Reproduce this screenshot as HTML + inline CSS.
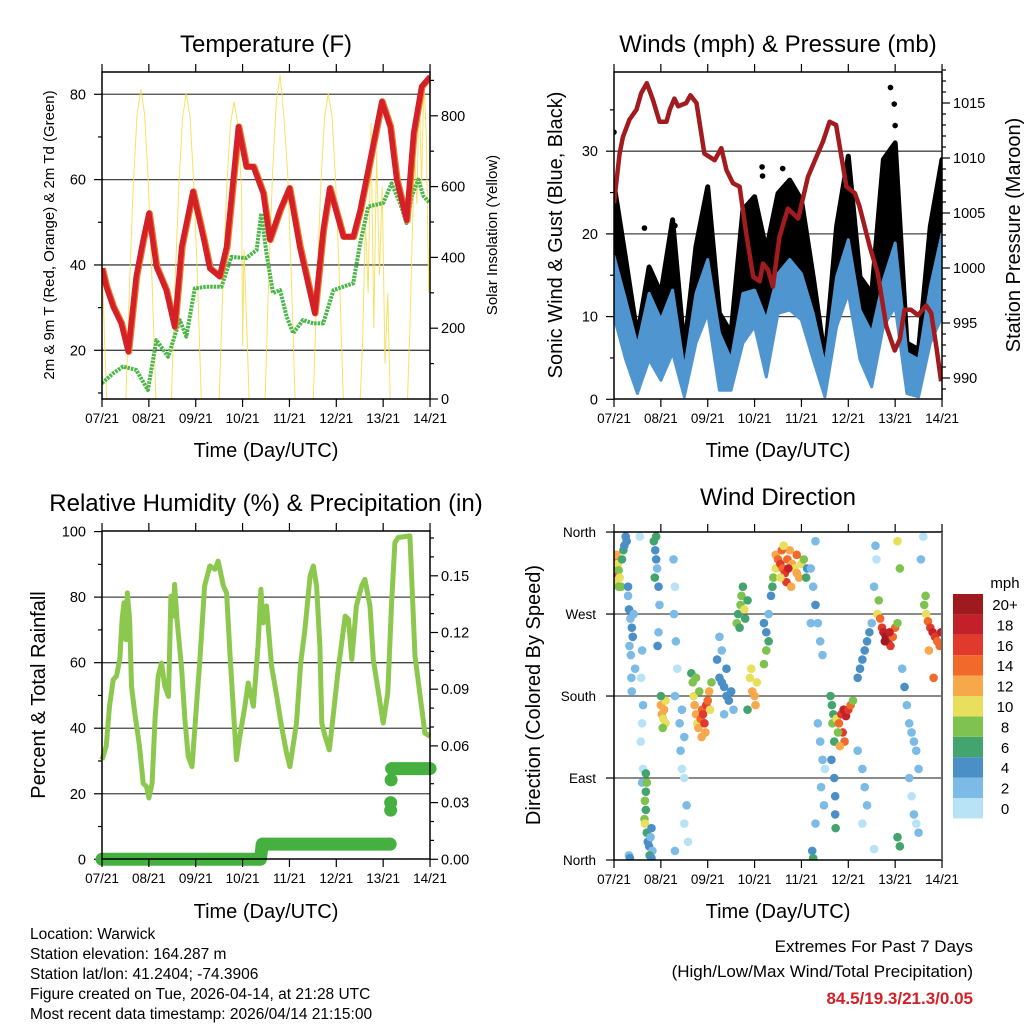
<!DOCTYPE html>
<html><head><meta charset="utf-8"><style>
html,body{margin:0;padding:0;background:#fff;}
svg{display:block;font-family:"Liberation Sans",sans-serif;}
</style></head><body>
<svg id="fig" width="1024" height="1024" viewBox="0 0 1024 1024" xmlns="http://www.w3.org/2000/svg"></svg>
<script>
// ---------- DATA ----------
const dayLabels = ["07/21","08/21","09/21","10/21","11/21","12/21","13/21","14/21"];
const tempData = [[0,39.2],[0.09,35],[0.24,30.2],[0.41,26.3],[0.56,19.7],[0.73,37.3],[0.88,45.9],[1.0,52.1],[1.16,39.6],[1.37,34.1],[1.55,25.5],[1.7,44.3],[1.94,57.2],[2.16,46.6],[2.3,39.2],[2.51,37.3],[2.66,44.3],[2.91,72.4],[3.08,63],[3.23,63],[3.44,56.8],[3.58,45.9],[3.8,52.9],[4.0,58],[4.22,44.3],[4.54,28.7],[4.72,48.2],[4.86,58],[5.15,46.6],[5.36,46.6],[5.51,52.9],[5.68,62.3],[5.97,78.3],[6.15,72.4],[6.29,59.9],[6.5,50.5],[6.65,70.9],[6.82,81.8],[7.0,84.1]];
const dewData = [[0,12.3],[0.24,14.6],[0.45,16.2],[0.73,15.4],[0.98,10.7],[1.16,22.4],[1.41,18.5],[1.66,27.1],[1.8,23.2],[1.98,34.5],[2.23,34.9],[2.55,34.9],[2.76,41.9],[3.08,41.6],[3.3,43.5],[3.4,52.1],[3.51,42.7],[3.65,33.4],[3.8,34.1],[3.94,27.9],[4.08,24],[4.29,27.1],[4.51,26.3],[4.72,26.3],[4.94,34.1],[5.15,34.9],[5.36,35.7],[5.51,45.1],[5.68,53.7],[6.0,54.5],[6.18,59.1],[6.36,54.5],[6.5,49.8],[6.61,56.1],[6.75,60],[6.86,56.1],[7.0,54.5]];
const solarData = [[0,400],[0.06,150],[0.1,0],
 [0.51,0],[0.59,330],[0.67,610],[0.75,805],[0.83,875],[0.91,805],[0.99,610],[1.07,330],[1.15,0],
 [1.48,0],[1.56,330],[1.64,605],[1.72,795],[1.80,864],[1.88,795],[1.96,605],[2.04,330],[2.12,0],
 [2.5,0],[2.58,320],[2.66,590],[2.74,775],[2.82,840],[2.9,775],[2.98,590],[3.0,150],[3.03,420],[3.06,320],[3.14,0],
 [3.48,0],[3.56,350],[3.64,640],[3.72,840],[3.80,915],[3.88,800],[3.96,640],[4.04,350],[4.12,0],
 [4.51,0],[4.59,330],[4.67,605],[4.75,795],[4.83,864],[4.91,795],[4.99,605],[5.07,330],[5.15,0],
 [5.51,0],[5.56,150],[5.62,500],[5.68,300],[5.74,780],[5.8,200],[5.86,700],[5.92,350],[5.98,600],[6.04,100],[6.1,300],[6.15,0],
 [6.52,0],[6.57,200],[6.62,450],[6.67,700],[6.72,550],[6.77,880],[6.82,600],[6.87,900],[6.92,750],[6.97,300],[7.0,500]];
const windTimes = [0,0.25,0.5,0.75,1,1.25,1.5,1.75,2,2.25,2.5,2.75,3,3.25,3.5,3.75,4,4.25,4.5,4.75,5,5.25,5.5,5.75,6,6.25,6.5,6.75,7];
const windHi = [17.3,12,6.4,12.8,9.6,13.2,3.5,12.8,16.9,8,4.8,12.8,13.2,9.6,15.2,16.9,15.2,10.4,4,14.8,19.3,10.8,8,14.4,18.9,5.6,4.8,13.6,20];
const windLo = [10,4.8,0.7,4.8,2.3,5.6,0.3,6.8,10.4,1.1,1.1,6.8,8.8,2.7,10.4,10.8,9.6,4.8,0.3,8.8,12.8,4.8,1.5,8.8,11.2,0.7,0.3,6.8,10];
const gustHi = [26,16.9,7.6,16,12.8,21.7,6,18.5,25.7,10.4,8,22.9,24.5,18,24.9,26.5,24.1,14.8,4.8,20.9,29.4,14.8,12.8,29,31,6.8,6,20.9,29];
const gustOutliers = [[5.9,37.7],[5.98,35.7],[6.0,33.1],[0,32.3],[3.16,28.1],[3.17,27],[3.6,27.9],[1.3,21],[0.65,20.7]];
const pressData = [[0,1005.9],[0.12,1010.4],[0.19,1011.9],[0.33,1013.5],[0.48,1014.4],[0.58,1015.9],[0.7,1016.8],[0.83,1015.3],[0.97,1013.3],[1.12,1013.3],[1.19,1014.4],[1.29,1015.4],[1.37,1014.7],[1.54,1015],[1.63,1015.7],[1.76,1015],[1.93,1010.4],[2.15,1009.8],[2.29,1010.9],[2.4,1008.9],[2.54,1007.7],[2.68,1007.4],[2.82,1003.2],[2.97,999.2],[3.11,998.8],[3.18,1000.4],[3.29,999.8],[3.39,998.3],[3.53,1002.8],[3.71,1005.4],[3.93,1004.5],[4.14,1008.3],[4.32,1010.1],[4.46,1011.5],[4.6,1013.3],[4.74,1013],[4.96,1007.4],[5.14,1006.8],[5.24,1005.6],[5.46,1001.9],[5.63,999.5],[5.81,994.7],[5.99,992.5],[6.1,993.5],[6.2,996.2],[6.34,996.2],[6.49,995.7],[6.66,996.6],[6.77,995.9],[6.88,992.8],[6.98,989.7]];
const rhData = [[0,30.4],[0.09,34.5],[0.16,46.7],[0.24,54.8],[0.31,55.9],[0.38,61],[0.43,73.2],[0.47,78.3],[0.51,67],[0.54,81.3],[0.59,73.2],[0.63,52.8],[0.7,44.6],[0.8,34.5],[0.88,23.2],[0.95,22.2],[1.0,18.7],[1.07,23.2],[1.13,42.6],[1.2,55.9],[1.27,59.9],[1.34,52.8],[1.42,49.7],[1.47,80.3],[1.52,74.2],[1.55,83.9],[1.6,73.2],[1.7,57.9],[1.77,42.6],[1.84,31.4],[1.92,28.3],[2.02,47.7],[2.09,61],[2.19,83.4],[2.3,89.5],[2.41,88.5],[2.48,91],[2.59,83.4],[2.66,81.3],[2.73,63],[2.87,30.4],[2.94,37.5],[3.05,46.7],[3.12,53.8],[3.23,46.7],[3.33,65],[3.39,82.4],[3.44,72.2],[3.51,77.3],[3.62,58.9],[3.73,49.7],[3.83,40.6],[3.94,32.4],[4.01,28.3],[4.15,41.6],[4.24,59.9],[4.33,70.1],[4.44,86.4],[4.51,89.5],[4.58,83.4],[4.65,65],[4.69,41.6],[4.76,37.5],[4.85,33.4],[4.94,44.6],[5.04,57.9],[5.19,74.2],[5.26,73.2],[5.33,61],[5.43,77.3],[5.54,83.4],[5.61,85.4],[5.72,77.3],[5.79,61],[5.9,50.8],[6.0,41.6],[6.1,50.8],[6.18,78.3],[6.25,96.6],[6.32,98.2],[6.57,98.7],[6.68,62],[6.79,49.7],[6.89,38.5],[7.0,37.5]];
const precipData = [[0,0],[3.38,0],[3.42,0.008],[6.15,0.008],[6.16,0.026],[6.16,0.030],[6.17,0.042],[6.18,0.048],[7.0,0.048]];
const dirData = [[0.0,330,14],[0.02,322,16],[0.03,315,17],[0.05,335,12],[0.08,325,10],[0.1,318,8],[0.12,310,10],[0.15,300,8],[0.17,330,6],[0.2,340,7],[0.22,345,5],[0.25,355,4],[0.27,350,4],[0.05,305,11],[0.1,300,9],
[0.3,290,3],[0.32,275,4],[0.35,265,3],[0.38,255,4],[0.4,245,5],[0.33,235,3],[0.42,270,2],[0.45,210,2],[0.36,225,3],[0.3,300,4],[0.32,5,3],[0.34,2,4],[0.37,200,3],[0.38,185,2],
[0.55,355,1],[0.6,230,2],[0.58,200,1],[0.62,170,2],[0.6,150,1],[0.57,130,1],[0.62,100,1],[0.6,85,2],
[0.68,95,7],[0.7,85,8],[0.68,75,7],[0.66,65,8],[0.68,55,7],[0.65,45,9],[0.66,40,10],[0.7,30,6],[0.72,20,5],[0.75,15,4],[0.78,25,3],[0.8,35,4],[0.82,10,3],[0.76,5,6],[0.8,2,4],
[0.85,350,6],[0.88,340,4],[0.9,330,5],[0.92,320,3],[0.95,300,4],[0.97,280,3],[0.95,250,2],[0.93,235,4],[0.9,355,7],[0.87,310,6],
[1.0,170,12],[1.02,160,12],[1.05,155,11],[1.07,165,12],[1.1,175,11],[1.1,150,10],[1.04,145,9],[1.0,180,7],
[1.27,330,2],[1.3,300,1],[1.28,270,3],[1.32,240,2],[1.35,210,1],[1.3,180,2],[1.4,150,2],[1.42,120,2],[1.45,100,1],[1.5,90,1],[1.55,60,2],[1.5,40,1],[1.3,10,2],[1.58,20,1],[1.5,135,2],[1.45,165,3],
[1.65,205,7],[1.68,195,9],[1.7,180,10],[1.72,170,12],[1.75,160,12],[1.78,150,11],[1.8,145,12],[1.85,155,14],[1.88,165,15],[1.9,160,16],[1.93,150,17],[1.97,170,16],[2.0,175,14],[2.03,185,13],[2.05,165,10],[1.82,185,9],[1.75,200,8],[1.95,140,13],[1.87,135,12],[2.08,195,9],
[2.2,220,4],[2.25,200,5],[2.3,195,4],[2.35,190,4],[2.4,180,5],[2.45,175,4],[2.5,185,5],[2.3,230,3],[2.25,245,3],[2.4,210,4],[2.55,165,3],[2.35,160,2],
[2.65,270,7],[2.7,280,8],[2.72,290,9],[2.75,300,7],[2.78,275,10],[2.8,265,7],[2.85,285,6],[2.62,260,8],[2.68,255,6],
[2.9,200,11],[2.95,185,12],[3.0,180,13],[3.02,170,12],[2.93,210,10],[3.05,195,11],[2.85,165,7],
[3.2,260,5],[3.25,250,4],[3.3,270,3],[3.35,290,4],[3.38,300,7],[3.4,310,9],[3.25,230,8],[3.2,215,9],[3.45,320,11],[3.3,240,6],
[3.45,335,12],[3.5,330,14],[3.55,325,16],[3.6,320,15],[3.65,315,17],[3.7,330,14],[3.75,340,13],[3.8,325,12],[3.85,320,11],[3.9,315,12],[3.95,310,13],[4.0,325,10],[4.05,330,8],[4.1,310,6],[3.58,340,14],[3.68,305,16],[3.78,300,12],[3.62,345,11],[3.9,335,14],[3.72,320,18],[4.12,320,5],[3.55,310,10],
[4.2,320,3],[4.25,300,2],[4.3,280,4],[4.35,260,3],[4.4,240,2],[4.45,225,2],[4.3,350,2],[4.2,260,2],
[4.23,10,5],[4.25,2,6],[4.3,40,2],[4.35,150,2],[4.4,130,3],[4.45,110,3],[4.42,80,2],[4.5,100,1],[4.48,60,2],
[4.62,180,7],[4.65,170,6],[4.68,160,7],[4.66,150,9],[4.7,90,4],[4.72,70,5],[4.72,50,4],[4.73,35,6],[4.7,130,6],[4.64,110,4],
[4.75,155,10],[4.8,150,14],[4.85,160,16],[4.9,165,18],[4.95,158,19],[5.0,165,17],[5.05,170,15],[4.88,140,16],[4.92,130,15],[4.78,140,9],[5.1,175,8],[4.82,125,12],
[5.2,200,4],[5.25,210,5],[5.3,220,4],[5.35,230,4],[5.4,240,5],[5.45,250,4],[5.5,260,3],[5.55,300,2],[5.6,330,1],[5.2,120,2],[5.3,100,2],[5.35,80,2],[5.4,60,2],[5.3,40,1],[5.58,345,3],[5.55,12,1],
[5.62,270,11],[5.68,265,15],[5.72,255,16],[5.75,250,18],[5.8,245,20],[5.85,240,19],[5.9,235,17],[5.95,245,15],[6.0,255,14],[5.78,240,20],[5.88,250,18],[5.65,285,9],[6.05,260,8],
[6.05,350,10],[6.1,320,9],[6.15,210,3],[6.2,190,4],[6.25,170,3],[6.3,150,2],[6.35,140,3],[6.4,130,2],[6.45,120,3],[6.5,100,2],[6.3,90,2],[6.35,70,1],[6.4,50,2],[6.45,40,1],[6.5,30,2],[6.1,15,6],[6.05,25,7],[6.55,330,2],[6.6,355,1],
[6.62,280,8],[6.66,270,10],[6.7,262,14],[6.75,255,16],[6.8,250,18],[6.85,245,17],[6.9,240,15],[6.95,235,14],[6.98,250,19],[6.72,230,12],[6.65,290,9],[6.82,200,14]];
const speedLabels = ["0","2","4","6","8","10","12","14","16","18","20+"];
const speedColors = ["#b8e3f7","#7cbbe6","#4b8fc7","#43a46e","#7fc24f","#e8e05c","#f7a84a","#f26a2b","#e03a2c","#c3202a","#9e1a1f"];
const tempTicks=[20,40,60,80], solarTicks=[0,200,400,600,800], windTicks=[0,10,20,30], pressTicks=[990,995,1000,1005,1010,1015], rhTicks=[0,20,40,60,80,100], precipTicks=["0.00","0.03","0.06","0.09","0.12","0.15"], dirTicks=["North","East","South","West","North"];

// ---------- HELPERS ----------
const NS="http://www.w3.org/2000/svg", svg=document.getElementById('fig');
function mk(tag,attrs,parent){const e=document.createElementNS(NS,tag);for(const k in attrs)e.setAttribute(k,attrs[k]);(parent||svg).appendChild(e);return e;}
function txt(s,x,y,size,anchor,parent,extra){const t=mk('text',Object.assign({x:x,y:y,'font-size':size,'text-anchor':anchor||'middle',fill:'#000'},extra||{}),parent);t.textContent=s;return t;}
const DAYW=46.86;
const P1={l:102,r:430,t:72,b:399}, P2={l:614,r:942,t:72,b:399}, P3={l:102,r:430,t:531,b:859}, P4={l:614,r:942,t:532,b:860};
const xs=(P,d)=>P.l+d*DAYW;
const yTemp=v=>350.3-(v-20)*4.267, ySolar=v=>399-v*0.354;
const yWind=v=>399.3-v*8.27, yPress=p=>103+(1015-p)*11;
const yRH=v=>859.3-v*3.277, yPrecip=v=>859.3-v*1890;
const yDir=d=>860-d*0.911;
function clip(id,P){const c=mk('clipPath',{id:id});mk('rect',{x:P.l,y:P.t,width:P.r-P.l,height:P.b-P.t},c);}
function frame(P,name,g){
  mk('rect',{x:P.l,y:P.t,width:P.r-P.l,height:P.b-P.t,fill:'none',stroke:'#000','stroke-width':1.5},g);
  for(let i=0;i<dayLabels.length;i++){const x=xs(P,i);
    mk('line',{x1:x,y1:P.b,x2:x,y2:P.b+8,stroke:'#000','stroke-width':1.2},g);
    mk('line',{x1:x,y1:P.t,x2:x,y2:P.t-8,stroke:'#000','stroke-width':1.2},g);
    const t=txt(dayLabels[i],x,P.b+24,13.5,'middle',g);
    
    }
}
function hgrid(y,P,g){mk('line',{x1:P.l,y1:y,x2:P.r,y2:y,stroke:'#444','stroke-width':1.3},g);}
function yt(x,y,len,g){mk('line',{x1:x,y1:y,x2:x+len,y2:y,stroke:'#000','stroke-width':1.2},g);}
function path(data,fx,fy){return data.map((p,i)=>(i?'L':'M')+fx(p[0]).toFixed(1)+','+fy(p[1]).toFixed(1)).join('');}
const defs=mk('defs',{});
clip('c1',P1);clip('c2',P2);clip('c3',P3);clip('c4',P4);

// ---------- PANEL 1 ----------
const g1=mk('g',{});
txt('Temperature (F)',266,52,24,'middle',g1);
for(const v of tempTicks){hgrid(yTemp(v),P1,g1);yt(P1.l-8,yTemp(v),8,g1);txt(String(v),86,yTemp(v)+5,14.5,'end',g1);}
for(const v of [10,30,50,70]){yt(P1.l-4,yTemp(v),4,g1);}
for(let v=0;v<=900;v+=100){yt(P1.r,ySolar(v),v%200===0?8:4,g1);}
for(const v of solarTicks){txt(String(v),441,ySolar(v)+5,14.5,'start',g1);}
const d1=mk('g',{'clip-path':'url(#c1)'},g1);
const sol=mk('path',{d:path(solarData,d=>xs(P1,d),ySolar),fill:'none',stroke:'#f6dc4a','stroke-width':1,'stroke-opacity':0.85},d1);

const dew=mk('path',{d:path(dewData,d=>xs(P1,d),yTemp),fill:'none',stroke:'#4cb648','stroke-width':4,'stroke-dasharray':'2.5 1','stroke-linejoin':'round'},d1);

const t9=mk('path',{d:path(tempData,d=>xs(P1,d+0.015),yTemp),fill:'none',stroke:'#f07a2a','stroke-width':6.5,'stroke-linejoin':'round'},d1);

const t2=mk('path',{d:path(tempData,d=>xs(P1,d),yTemp),fill:'none',stroke:'#d42027','stroke-width':5.5,'stroke-linejoin':'round'},d1);

frame(P1,'temperature',g1);
txt('Time (Day/UTC)',266,457,20,'middle',g1);
txt('2m & 9m T (Red, Orange) & 2m Td (Green)',0,0,15,'middle',g1,{transform:'translate(54,235) rotate(-90)'});
txt('Solar Insolation (Yellow)',0,0,15,'middle',g1,{transform:'translate(497,235) rotate(-90)'});

// ---------- PANEL 2 ----------
const g2=mk('g',{});
txt('Winds (mph) & Pressure (mb)',778,52,24,'middle',g2);
for(const v of windTicks){if(v>0)hgrid(yWind(v),P2,g2);yt(P2.l-8,yWind(v),8,g2);txt(String(v),598,yWind(v)+5,14.5,'end',g2);}
for(const v of [5,15,25,35]){yt(P2.l-4,yWind(v),4,g2);}
for(let p=989;p<=1018;p++){yt(P2.r,yPress(p),p%5===0?8:4,g2);}
for(const p of pressTicks){txt(String(p),953,yPress(p)+5,14.5,'start',g2);}
const d2=mk('g',{'clip-path':'url(#c2)'},g2);
let gp='M'+windTimes.map((t,i)=>xs(P2,t).toFixed(1)+','+yWind(gustHi[i]).toFixed(1)).join('L');
for(let i=windTimes.length-1;i>=0;i--)gp+='L'+xs(P2,windTimes[i]).toFixed(1)+','+yWind(windHi[i]).toFixed(1);
const gb=mk('path',{d:gp+'Z',fill:'#000',stroke:'#000','stroke-width':5,'stroke-linejoin':'round'},d2);

for(const o of gustOutliers){const c=mk('circle',{cx:xs(P2,o[0]),cy:yWind(o[1]),r:2.8,fill:'#000'},d2);
  
  }
let wp='M'+windTimes.map((t,i)=>xs(P2,t).toFixed(1)+','+yWind(windHi[i]).toFixed(1)).join('L');
for(let i=windTimes.length-1;i>=0;i--)wp+='L'+xs(P2,windTimes[i]).toFixed(1)+','+yWind(windLo[i]).toFixed(1);
const wb=mk('path',{d:wp+'Z',fill:'#4f95d0',stroke:'#4f95d0','stroke-width':3,'stroke-linejoin':'round'},d2);

const pl=mk('path',{d:path(pressData,d=>xs(P2,d),yPress),fill:'none',stroke:'#a21b1f','stroke-width':4.5,'stroke-linejoin':'round'},d2);

frame(P2,'winds',g2);
txt('Time (Day/UTC)',778,457,20,'middle',g2);
txt('Sonic Wind & Gust (Blue, Black)',0,0,20,'middle',g2,{transform:'translate(562,235) rotate(-90)'});
txt('Station Pressure (Maroon)',0,0,20,'middle',g2,{transform:'translate(1020,235) rotate(-90)'});

// ---------- PANEL 3 ----------
const g3=mk('g',{});
txt('Relative Humidity (%) & Precipitation (in)',266,511,24,'middle',g3);
for(const v of rhTicks){if(v>0&&v<100)hgrid(yRH(v),P3,g3);yt(P3.l-8,yRH(v),8,g3);txt(String(v),86,yRH(v)+5,14.5,'end',g3);}
for(const v of [10,30,50,70,90]){yt(P3.l-4,yRH(v),4,g3);}
for(let i=0;i<=17;i++){yt(P3.r,yPrecip(i*0.01),i%3===0?8:4,g3);}
precipTicks.forEach(s=>{txt(s,441,yPrecip(parseFloat(s))+5,14.5,'start',g3);});
const d3=mk('g',{},g3);
const rl=mk('path',{d:path(rhData,d=>xs(P3,d),yRH),fill:'none',stroke:'#8dc84e','stroke-width':5,'stroke-linejoin':'round'},d3);

for(let i=0;i<precipData.length;i++){const p=precipData[i];
  const c=mk('circle',{cx:xs(P3,p[0]),cy:yPrecip(p[1]),r:6.5,fill:'#45b040'},d3);
  
  
  if(i>0&&precipData[i-1][1]===p[1]){mk('line',{x1:xs(P3,precipData[i-1][0]),y1:yPrecip(p[1]),x2:xs(P3,p[0]),y2:yPrecip(p[1]),stroke:'#45b040','stroke-width':13},d3);}
  else if(i>0&&p[0]-precipData[i-1][0]>0.02){mk('line',{x1:xs(P3,precipData[i-1][0]),y1:yPrecip(precipData[i-1][1]),x2:xs(P3,p[0]),y2:yPrecip(p[1]),stroke:'#45b040','stroke-width':13},d3);}
}
frame(P3,'humidity',g3);
txt('Time (Day/UTC)',266,918,20,'middle',g3);
txt('Percent & Total Rainfall',0,0,20,'middle',g3,{transform:'translate(45,695) rotate(-90)'});

// ---------- PANEL 4 ----------
const g4=mk('g',{});
txt('Wind Direction',778,505,24,'middle',g4);
dirTicks.forEach((s,i)=>{const y=yDir(i*90);if(i>0&&i<4)hgrid(y,P4,g4);yt(P4.l-8,y,8,g4);txt(s,596,y+5,13.5,'end',g4);});
const d4=mk('g',{'clip-path':'url(#c4)'},g4);
for(const p of dirData){const bin=Math.min(10,Math.floor(p[2]/2));
  const c=mk('circle',{cx:xs(P4,p[0]),cy:yDir(p[1]),r:4.3,fill:speedColors[bin]},d4);
  
  }
frame(P4,'wind-direction',g4);
mk('line',{x1:P4.r,y1:P4.t,x2:P4.r,y2:P4.b,stroke:'#666','stroke-width':2},g4);
txt('Time (Day/UTC)',778,918,20,'middle',g4);
txt('Direction (Colored By Speed)',0,0,20,'middle',g4,{transform:'translate(540,695) rotate(-90)'});
const cb=mk('g',{},g4);
txt('mph',1005,588,15,'middle',cb);
for(let i=0;i<speedColors.length;i++){const y=798-i*20.4;
  const r=mk('rect',{x:953,y:y,width:30,height:20.4,fill:speedColors[i]},cb);
  
  
  txt(speedLabels[i],1005,y+16,15,'middle',cb);}

// ---------- FOOTER ----------
const ft=mk('g',{});
["Location: Warwick","Station elevation: 164.287 m","Station lat/lon: 41.2404; -74.3906","Figure created on Tue, 2026-04-14, at 21:28 UTC","Most recent data timestamp: 2026/04/14 21:15:00"].forEach((s,i)=>{
  txt(s,30,939+i*20,15.5,'start',ft);});
const ex=mk('g',{});
txt('Extremes For Past 7 Days',973,952,17,'end',ex);
txt('(High/Low/Max Wind/Total Precipitation)',973,977,17,'end',ex);
txt('84.5/19.3/21.3/0.05',973,1004,17,'end',ex,{fill:'#d42027','font-weight':'bold'});
</script>
</body></html>
